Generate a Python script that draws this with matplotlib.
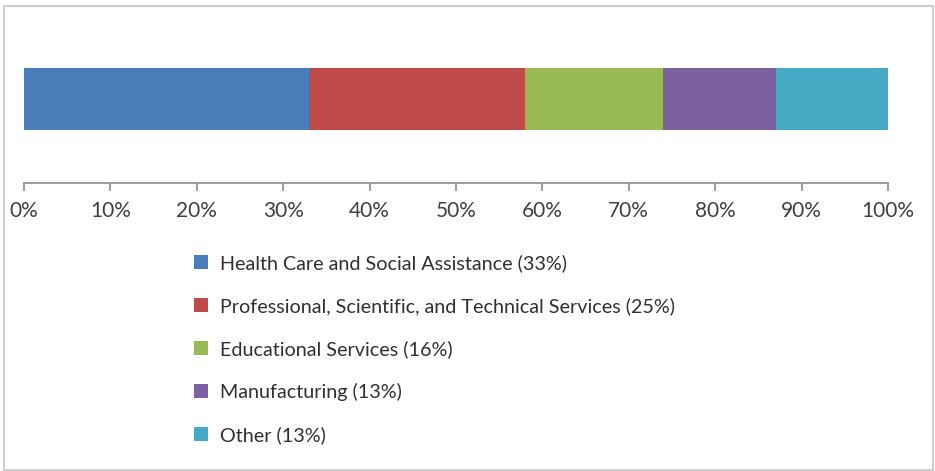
import matplotlib.pyplot as plt
from matplotlib.patches import Rectangle, Patch

plt.rcParams['font.family'] = ['Lato', 'DejaVu Sans']

sectors = ['Health Care and Social Assistance',
           'Professional, Scientific, and Technical Services',
           'Educational Services',
           'Manufacturing',
           'Other']
shares = [33, 25, 16, 13, 13]  # percent of total
colors = ['#4a7ebb', '#be4b48', '#98b954', '#7d60a0', '#46aac5']
ticks = [0, 10, 20, 30, 40, 50, 60, 70, 80, 90, 100]

W, H = 935, 471
fig = plt.figure(figsize=(W / 100, H / 100), dpi=100)
fig.patch.set_facecolor('white')

# axes box in pixel terms: x 24..888, y 40..183 (from top)
ax = fig.add_axes([24 / W, 1 - 183 / H, 864 / W, 143 / H])

left = 0
for name, val, c in zip(sectors, shares, colors):
    ax.barh(0.5855, val, height=0.4336, left=left, color=c, edgecolor='none')
    left += val

ax.set_xlim(0, 100)
ax.set_ylim(0, 1)
ax.set_xticks(ticks)
ax.set_xticklabels([f'{t}%' for t in ticks])
ax.set_yticks([])
for s in ['top', 'right', 'left']:
    ax.spines[s].set_visible(False)
ax.spines['bottom'].set_color('#8c8c8c')
ax.spines['bottom'].set_linewidth(1.2)
ax.tick_params(axis='x', direction='out', length=6, width=1.2, color='#8c8c8c',
               labelsize=15, labelcolor='#404040', pad=7)

handles = [Patch(facecolor=c, edgecolor='none') for c in colors]
labels = [f'{n} ({v}%)' for n, v in zip(sectors, shares)]
fig.legend(handles, labels, loc='upper left', bbox_to_anchor=(184 / W, 1 - 244 / H),
           frameon=False, fontsize=14.2, labelcolor='#303030',
           handlelength=0.7, handleheight=0.7, handletextpad=0.65,
           labelspacing=1.27, borderpad=0)

# light outer frame
fig.add_artist(Rectangle((4 / W, 1 - 470 / H), 929 / W, 464 / H,
                         transform=fig.transFigure, fill=False,
                         edgecolor='#cfcfcf', linewidth=1.5))

fig.savefig('out.png', dpi=100)
